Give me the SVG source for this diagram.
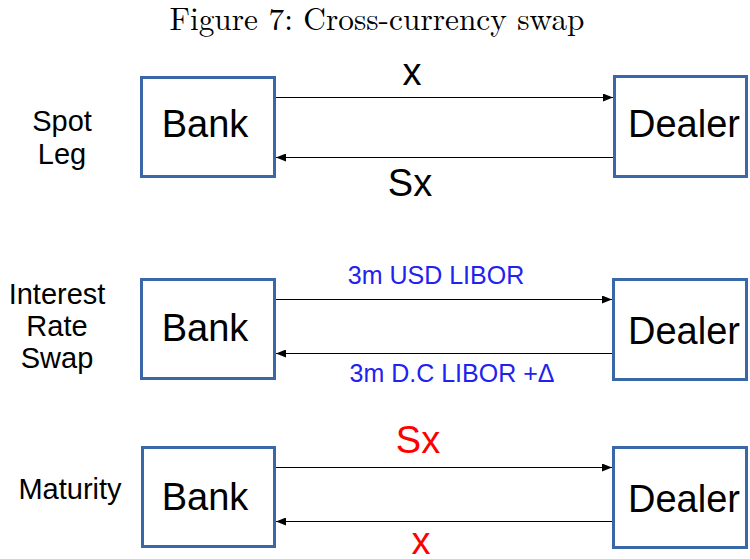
<svg xmlns="http://www.w3.org/2000/svg" width="750" height="559" viewBox="0 0 750 559">
  <style>
    .box { fill: #ffffff; stroke: #3a67a8; stroke-width: 3; }
    .node-text { font-family: "Liberation Sans", Arial, sans-serif; font-size: 38px; fill: #000000; text-anchor: middle; }
    .side { font-family: "Liberation Sans", Arial, sans-serif; font-size: 29px; fill: #000000; text-anchor: middle; }
    .flow { stroke: #000000; stroke-width: 1; fill: none; }
    .lbl { font-family: "Liberation Sans", Arial, sans-serif; text-anchor: middle; }
    .big { font-size: 38px; }
    .blue { font-size: 25px; fill: #2222ee; }
    .red { fill: #ff0000; }
    .title { font-family: "Latin Modern Roman", "Liberation Serif", "DejaVu Serif", serif; font-size: 32px; fill: #000000; text-anchor: middle; }
  </style>
  <defs>
    <marker id="arrow" viewBox="0 0 10 8" refX="10" refY="4" markerWidth="10" markerHeight="8" markerUnits="userSpaceOnUse" orient="auto">
      <path d="M0,0 L10,4 L0,8 Z" fill="#000000"/>
    </marker>
  </defs>

  <rect width="750" height="559" fill="#ffffff"/>

  <text class="title" x="377" y="30" textLength="415" lengthAdjust="spacingAndGlyphs">Figure 7: Cross-currency swap</text>

  <!-- row labels -->
  <text class="side" x="62" y="131">Spot</text>
  <text class="side" x="62" y="164">Leg</text>
  <text class="side" x="57" y="304">Interest</text>
  <text class="side" x="57" y="336">Rate</text>
  <text class="side" x="57" y="368">Swap</text>
  <text class="side" x="70" y="499">Maturity</text>

  <!-- nodes -->
  <g id="bank-spot">
    <rect class="box" x="141.5" y="77.5" width="133" height="99"/>
    <text class="node-text" x="205" y="137">Bank</text>
  </g>
  <g id="dealer-spot">
    <rect class="box" x="614.5" y="76.5" width="132" height="100"/>
    <text class="node-text" x="684" y="137">Dealer</text>
  </g>
  <g id="bank-irs">
    <rect class="box" x="141.5" y="279.5" width="133" height="99"/>
    <text class="node-text" x="205" y="341">Bank</text>
  </g>
  <g id="dealer-irs">
    <rect class="box" x="613.5" y="279.5" width="133" height="100"/>
    <text class="node-text" x="684" y="344">Dealer</text>
  </g>
  <g id="bank-maturity">
    <rect class="box" x="142.5" y="447.5" width="132" height="99"/>
    <text class="node-text" x="205" y="510">Bank</text>
  </g>
  <g id="dealer-maturity">
    <rect class="box" x="613.5" y="447.5" width="133" height="100"/>
    <text class="node-text" x="684" y="512">Dealer</text>
  </g>

  <!-- connectors -->
  <g id="connectors">
    <line class="flow" x1="276" y1="97.5" x2="613" y2="97.5" marker-end="url(#arrow)"/>
    <line class="flow" x1="613" y1="157.5" x2="276" y2="157.5" marker-end="url(#arrow)"/>
    <line class="flow" x1="276" y1="299.5" x2="612" y2="299.5" marker-end="url(#arrow)"/>
    <line class="flow" x1="612" y1="353.5" x2="276" y2="353.5" marker-end="url(#arrow)"/>
    <line class="flow" x1="276" y1="467.5" x2="612" y2="467.5" marker-end="url(#arrow)"/>
    <line class="flow" x1="612" y1="521.5" x2="276" y2="521.5" marker-end="url(#arrow)"/>
  </g>

  <!-- flow labels -->
  <text class="lbl big" x="412" y="85">x</text>
  <text class="lbl big" x="410" y="196">Sx</text>
  <text class="lbl blue" x="436" y="284">3m USD LIBOR</text>
  <text class="lbl blue" x="452" y="382">3m D.C LIBOR +Δ</text>
  <text class="lbl big red" x="418" y="453">Sx</text>
  <text class="lbl big red" x="421" y="554">x</text>
</svg>
